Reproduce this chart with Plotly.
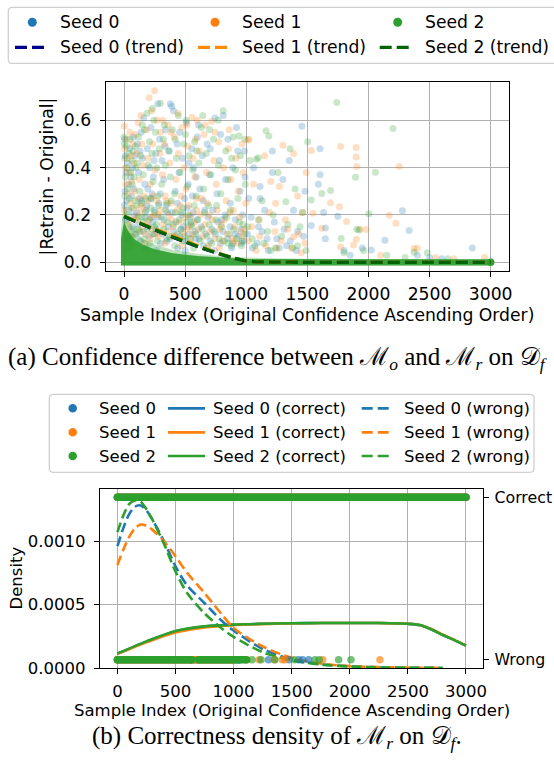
import plotly.graph_objects as go

W, H = 554, 770
BLUE, ORANGE, GREEN = '#1f77b4', '#ff7f0e', '#2ca02c'
TREND_COLORS = ['#00008b', '#ff8c00', '#006400']
SEED_COLORS = [BLUE, ORANGE, GREEN]
SANS = 'DejaVu Sans'
SERIF = 'Liberation Serif'

# ---------------- Panel (a): |Retrain - Original| per sample ----------------
seed0_pts = [
    (5,0.52),(10,0.45),(15,0.38),(8,0.30),(20,0.26),(12,0.18),(30,0.42),(35,0.33),(40,0.22),(45,0.48),
    (55,0.36),(60,0.28),(65,0.15),(70,0.40),(75,0.53),(80,0.31),(85,0.20),(90,0.45),(95,0.12),(25,0.10),
    (50,0.08),(18,0.06),(3,0.24),
    (110,0.50),(120,0.38),(130,0.27),(140,0.55),(150,0.44),(160,0.61),(170,0.33),(180,0.22),(190,0.48),
    (200,0.15),(210,0.40),(220,0.57),(230,0.29),(240,0.36),(250,0.12),(260,0.46),(276,0.67),(285,0.25),
    (290,0.52),(300,0.08),(135,0.09),(175,0.06),(225,0.19),(265,0.05),(195,0.31),
    (310,0.43),(325,0.35),(340,0.56),(355,0.21),(370,0.47),(379,0.67),(390,0.66),(405,0.64),(420,0.30),
    (435,0.50),(450,0.38),(465,0.14),(480,0.44),(495,0.27),(510,0.59),(525,0.33),(540,0.19),(555,0.48),
    (570,0.40),(585,0.10),(600,0.53),(350,0.09),(440,0.06),(500,0.05),(560,0.28),(590,0.36),
    (620,0.31),(640,0.45),(660,0.22),(680,0.50),(700,0.37),(720,0.14),(744,0.61),(760,0.29),(780,0.43),
    (800,0.18),(812,0.62),(830,0.35),(850,0.52),(870,0.25),(890,0.40),(910,0.12),(930,0.47),(950,0.30),
    (970,0.20),(990,0.36),(650,0.07),(740,0.05),(880,0.06),(960,0.08),
    (105,0.21),(118,0.16),(142,0.26),(158,0.13),(172,0.19),(186,0.24),(204,0.11),(218,0.27),(236,0.17),
    (248,0.22),(262,0.14),(278,0.19),(296,0.29),(312,0.12),(328,0.18),(344,0.24),(362,0.15),(376,0.10),
    (392,0.21),(408,0.13),(424,0.17),(438,0.25),(456,0.11),(472,0.20),(488,0.15),(504,0.09),(518,0.23),
    (532,0.12),(548,0.16),(566,0.21),(582,0.13),(598,0.18),(614,0.10),(632,0.15),(648,0.26),(668,0.12),
    (686,0.19),(706,0.09),(726,0.22),(748,0.12),(768,0.17),(788,0.08),(808,0.13),(828,0.20),(848,0.10),
    (868,0.15),(890,0.08),(912,0.18),(936,0.11),(958,0.14),(982,0.09),
    (130,0.47),(245,0.43),(335,0.49),(455,0.55),(530,0.42),(610,0.58),(705,0.48),(790,0.54),(920,0.57),
    (985,0.47),
    (1020,0.27),(1060,0.40),(1100,0.15),(1113,0.27),(1113,0.32),(1150,0.22),(1214,0.47),(1214,0.38),
    (1250,0.10),(1300,0.35),(1352,0.43),(1387,0.22),(1420,0.13),(1455,0.575),(1480,0.30),(1050,0.06),
    (1180,0.05),(1330,0.07),(1010,0.12),(1040,0.19),(1090,0.08),(1130,0.13),(1170,0.10),(1230,0.17),
    (1270,0.06),(1310,0.14),(1360,0.09),(1410,0.05),(1470,0.11),
    (1532,0.155),(1590,0.33),(1604,0.48),(1604,0.37),(1633,0.21),(1647,0.145),(1647,0.10),(1749,0.195),
    (1800,0.05),(1850,0.03),(1950,0.06),
    (2023,0.052),(2135,0.093),(2278,0.218),(2333,0.134),(2400,0.03),(2500,0.02),(2600,0.015),(2850,0.06),
]
seed1_pts = [
    (2,0.575),(6,0.48),(10,0.40),(14,0.33),(4,0.22),(22,0.52),(28,0.44),(32,0.29),(38,0.16),(42,0.38),
    (48,0.55),(52,0.25),(58,0.45),(62,0.34),(68,0.11),(72,0.50),(78,0.23),(82,0.42),(86,0.30),(92,0.54),
    (96,0.19),(16,0.09),(44,0.06),(76,0.07),(26,0.13),
    (105,0.46),(115,0.59),(125,0.35),(135,0.24),(145,0.50),(155,0.41),(165,0.28),(185,0.56),(195,0.44),
    (205,0.695),(215,0.33),(235,0.50),(250,0.725),(255,0.39),(270,0.60),(280,0.20),(295,0.46),(125,0.13),
    (170,0.08),(215,0.10),(260,0.12),(240,0.28),(190,0.17),(300,0.55),
    (315,0.37),(330,0.50),(345,0.26),(360,0.58),(375,0.42),(390,0.18),(410,0.53),(425,0.35),(445,0.46),
    (460,0.24),(475,0.57),(490,0.40),(505,0.31),(520,0.49),(535,0.15),(555,0.612),(565,0.44),(580,0.36),
    (595,0.22),(600,0.60),(335,0.08),(400,0.11),(470,0.07),(545,0.10),(515,0.58),
    (615,0.47),(635,0.27),(655,0.54),(675,0.38),(695,0.20),(717,0.596),(735,0.43),(755,0.33),(775,0.51),
    (795,0.16),(815,0.40),(835,0.26),(855,0.48),(875,0.35),(895,0.22),(915,0.44),(935,0.30),(955,0.13),
    (975,0.38),(995,0.25),(1015,0.517),(690,0.07),(780,0.06),(900,0.09),
    (102,0.18),(112,0.27),(128,0.21),(148,0.15),(162,0.23),(178,0.12),(198,0.26),(212,0.19),(228,0.14),
    (246,0.20),(266,0.26),(284,0.11),(302,0.22),(318,0.16),(336,0.28),(352,0.13),(368,0.20),(384,0.25),
    (402,0.15),(418,0.11),(434,0.22),(452,0.17),(468,0.28),(484,0.12),(498,0.19),(512,0.14),(528,0.24),
    (544,0.20),(562,0.12),(578,0.17),(592,0.27),(608,0.14),(626,0.20),(644,0.11),(662,0.16),(682,0.25),
    (702,0.13),(722,0.18),(742,0.10),(762,0.22),(784,0.14),(804,0.09),(824,0.18),(844,0.12),(864,0.21),
    (884,0.10),(906,0.15),(926,0.08),(946,0.19),(968,0.11),(988,0.14),
    (138,0.62),(225,0.64),(318,0.60),(385,0.55),(440,0.63),(585,0.52),(665,0.58),(745,0.55),(860,0.56),
    (965,0.50),
    (1020,0.52),(1060,0.33),(1100,0.18),(1150,0.45),(1200,0.341),(1240,0.25),(1272,0.32),(1300,0.495),
    (1340,0.14),(1387,0.46),(1387,0.108),(1420,0.28),(1460,0.21),(1490,0.38),(1080,0.05),(1250,0.06),
    (1450,0.04),(1015,0.09),(1045,0.15),(1110,0.11),(1160,0.07),(1190,0.21),(1235,0.13),(1285,0.09),
    (1320,0.18),(1370,0.06),(1430,0.12),(1480,0.08),
    (1532,0.472),(1546,0.207),(1618,0.144),(1690,0.252),(1763,0.235),(1772,0.489),(1772,0.066),
    (1821,0.172),(1878,0.073),(1900,0.485),(1900,0.445),(1905,0.405),(1902,0.097),(1930,0.14),(1980,0.139),
    (2170,0.199),(2224,0.165),(2252,0.405),(2373,0.058),(2399,0.059),(2550,0.02),(2700,0.015),(2950,0.02),
    (2100,0.03),
]
seed2_pts = [
    (0,0.53),(3,0.50),(7,0.44),(11,0.36),(6,0.28),(19,0.49),(24,0.40),(29,0.31),(33,0.20),(39,0.46),
    (43,0.27),(49,0.52),(54,0.38),(59,0.23),(63,0.43),(67,0.33),(73,0.47),(79,0.14),(83,0.36),(89,0.26),
    (93,0.49),(98,0.40),(13,0.12),(36,0.09),(57,0.11),
    (108,0.42),(118,0.53),(128,0.30),(138,0.45),(148,0.19),(158,0.37),(168,0.56),(178,0.27),(188,0.63),
    (198,0.41),(208,0.51),(218,0.23),(228,0.46),(238,0.34),(248,0.15),(258,0.55),(268,0.40),(278,0.28),
    (288,0.48),(298,0.672),(113,0.14),(163,0.10),(213,0.08),(273,0.09),(243,0.60),
    (308,0.33),(322,0.52),(338,0.41),(352,0.25),(366,0.47),(380,0.36),(395,0.56),(412,0.29),(428,0.44),
    (444,0.62),(458,0.38),(472,0.21),(488,0.50),(503,0.54),(518,0.32),(532,0.45),(548,0.17),(562,0.39),
    (578,0.51),(592,0.28),(345,0.10),(415,0.07),(480,0.09),(570,0.06),
    (612,0.42),(632,0.57),(652,0.31),(644,0.62),(672,0.46),(692,0.24),(712,0.37),(732,0.52),(752,0.18),
    (772,0.41),(792,0.29),(812,0.64),(832,0.47),(852,0.35),(872,0.22),(892,0.53),(912,0.39),(932,0.27),
    (942,0.534),(952,0.45),(972,0.16),(992,0.33),(680,0.06),(850,0.08),(960,0.07),
    (104,0.24),(116,0.19),(132,0.13),(146,0.25),(156,0.17),(174,0.21),(192,0.14),(206,0.18),(222,0.27),
    (234,0.12),(252,0.21),(266,0.16),(282,0.24),(294,0.13),(306,0.19),(324,0.14),(340,0.22),(356,0.17),
    (372,0.11),(386,0.26),(404,0.16),(420,0.21),(436,0.12),(450,0.18),(466,0.14),(482,0.23),(496,0.11),
    (510,0.17),(526,0.20),(540,0.10),(556,0.15),(574,0.24),(588,0.12),(604,0.18),(622,0.09),(640,0.14),
    (658,0.21),(678,0.11),(698,0.16),(718,0.08),(738,0.13),(758,0.24),(778,0.10),(798,0.15),(818,0.09),
    (838,0.19),(858,0.12),(878,0.07),(898,0.14),(922,0.10),(944,0.17),(966,0.09),(990,0.12),
    (150,0.58),(232,0.65),(330,0.58),(418,0.52),(508,0.60),(596,0.47),(700,0.56),(770,0.60),(880,0.44),
    (990,0.52),
    (1030,0.43),(1082,0.436),(1098,0.442),(1130,0.26),(1162,0.556),(1185,0.534),(1220,0.20),(1260,0.38),
    (1324,0.256),(1358,0.48),(1400,0.31),(1440,0.15),(1503,0.51),(1070,0.07),(1200,0.05),(1380,0.06),
    (1012,0.15),(1050,0.10),(1105,0.18),(1145,0.08),(1175,0.13),(1240,0.06),(1290,0.11),(1340,0.16),
    (1420,0.07),(1460,0.21),(1490,0.05),
    (1532,0.263),(1618,0.291),(1690,0.303),(1740,0.675),(1777,0.101),(1800,0.04),(1894,0.359),
    (1904,0.14),(1922,0.137),(1960,0.05),
    (2003,0.205),(2057,0.381),(2201,0.565),(2373,0.043),(2481,0.040),(2300,0.02),(2650,0.015),(2150,0.03),
]
# dense low-value band of overlapping samples (upper envelope of the saturated region)
band_light_x = [-25, 0, 30, 80, 150, 250, 400, 600, 800, 1000, 1300, 1700, 3000]
band_light_top = [0.14, 0.26, 0.19, 0.14, 0.10, 0.075, 0.052, 0.036, 0.026, 0.02, 0.016, 0.014, 0.013]
band_solid_x = [-25, 0, 30, 80, 150, 250, 400, 600, 800, 1000, 3000]
band_solid_top = [0.10, 0.17, 0.135, 0.10, 0.075, 0.055, 0.038, 0.027, 0.02, 0.014, 0.013]
band_floor = -0.0135

trend_x = [0, 100, 200, 300, 400, 500, 600, 700, 800, 900, 1000, 1100, 1200, 1500, 2000, 2500, 3000]
trend_seed0 = [0.194, 0.171, 0.149, 0.127, 0.106, 0.086, 0.067, 0.049, 0.032, 0.017, 0.006, 0.002, 0.001, 0, 0, 0, 0]
trend_seed1 = [0.196, 0.173, 0.152, 0.131, 0.111, 0.091, 0.071, 0.052, 0.034, 0.018, 0.006, 0.002, 0.001, 0, 0, 0, 0]
trend_seed2 = [0.195, 0.172, 0.150, 0.128, 0.107, 0.087, 0.068, 0.050, 0.033, 0.018, 0.006, 0.002, 0.001, 0, 0, 0, 0]

# ---------------- Panel (b): correctness density ----------------
DENSITY_UNIT = 1e-4
kde_correct_x = [0, 250, 500, 750, 1000, 1250, 1500, 1750, 2000, 2250, 2500, 2600, 2700, 2800, 2900, 3000]
kde_correct_seed0 = [1.13, 2.08, 2.90, 3.27, 3.41, 3.48, 3.52, 3.54, 3.55, 3.54, 3.48, 3.38, 3.05, 2.60, 2.20, 1.76]
kde_correct_seed1 = [1.10, 2.02, 2.80, 3.20, 3.38, 3.46, 3.51, 3.54, 3.55, 3.54, 3.49, 3.39, 3.07, 2.62, 2.21, 1.77]
kde_correct_seed2 = [1.15, 2.10, 2.92, 3.28, 3.42, 3.48, 3.52, 3.54, 3.55, 3.54, 3.48, 3.38, 3.05, 2.60, 2.20, 1.76]
kde_wrong_x = [0, 50, 100, 150, 200, 250, 300, 400, 500, 600, 750, 900, 1000, 1250, 1500, 1750, 2000, 2250, 2500, 2800]
kde_wrong_seed0 = [9.6, 11.0, 12.1, 12.7, 12.8, 12.4, 11.7, 10.0, 8.0, 6.5, 5.1, 3.7, 2.95, 1.5, 0.68, 0.30, 0.13, 0.06, 0.02, 0.005]
kde_wrong_seed1 = [8.1, 9.3, 10.3, 11.0, 11.3, 11.2, 10.9, 10.0, 8.8, 7.5, 5.9, 4.2, 3.15, 1.7, 0.80, 0.35, 0.15, 0.07, 0.03, 0.01]
kde_wrong_seed2 = [10.7, 12.0, 12.9, 13.2, 13.1, 12.5, 11.7, 9.8, 7.6, 5.9, 4.3, 3.1, 2.45, 1.25, 0.60, 0.28, 0.12, 0.05, 0.02, 0.005]

correct_spans = [[(0, 3000)], [(0, 3000)], [(0, 3000)]]
wrong_spans = [[(0, 1050)], [(0, 1000)], [(0, 640), (700, 1110)]]
wrong_points = [
    [1300, 1478, 1560, 1594, 1646],
    [1115, 1220, 1350, 1418, 1442, 1767, 2259],
    [1160, 1236, 1355, 1524, 1700, 1737, 1904, 2010],
]

seed_names = ['Seed 0', 'Seed 1', 'Seed 2']


def rgba(hex_color, a):
    h = hex_color.lstrip('#')
    return 'rgba(%d,%d,%d,%g)' % (int(h[0:2], 16), int(h[2:4], 16), int(h[4:6], 16), a)


def px(x):
    return x / W


def py(y):
    return 1 - y / H


fig = go.Figure()

# ---- panel (a) traces ----
for pts, col, name in zip([seed0_pts, seed1_pts, seed2_pts], SEED_COLORS, seed_names):
    fig.add_trace(go.Scatter(
        x=[p[0] for p in pts], y=[p[1] for p in pts], mode='markers', name=name,
        marker=dict(size=7, color=rgba(col, 0.25), line=dict(width=0)),
        xaxis='x', yaxis='y', showlegend=False, hoverinfo='skip'))

for bx, btop, alpha in [(band_light_x, band_light_top, 0.3), (band_solid_x, band_solid_top, 0.9)]:
    fig.add_trace(go.Scatter(
        x=bx + [bx[-1], bx[0]], y=btop + [band_floor, band_floor], mode='lines',
        fill='toself', fillcolor=rgba(GREEN, alpha), line=dict(width=0),
        xaxis='x', yaxis='y', showlegend=False, hoverinfo='skip'))
fig.add_trace(go.Scatter(x=[band_solid_x[-1]], y=[0], mode='markers',
                         marker=dict(size=7.5, color=GREEN, line=dict(width=0)),
                         xaxis='x', yaxis='y', showlegend=False, hoverinfo='skip'))

for ty, col, name in zip([trend_seed0, trend_seed1, trend_seed2], TREND_COLORS, seed_names):
    fig.add_trace(go.Scatter(
        x=trend_x, y=ty, mode='lines', name=name + ' (trend)',
        line=dict(color=col, width=3.3, dash='12px,5px', shape='spline', smoothing=0.6),
        xaxis='x', yaxis='y', showlegend=False, hoverinfo='skip'))

# ---- panel (b) traces ----
for ky, col, name in zip([kde_correct_seed0, kde_correct_seed1, kde_correct_seed2], SEED_COLORS, seed_names):
    fig.add_trace(go.Scatter(
        x=kde_correct_x, y=[v * DENSITY_UNIT for v in ky], mode='lines', name=name + ' (correct)',
        line=dict(color=col, width=2.6, shape='spline', smoothing=0.8),
        xaxis='x2', yaxis='y2', showlegend=False, hoverinfo='skip'))
for ky, col, name in zip([kde_wrong_seed0, kde_wrong_seed1, kde_wrong_seed2], SEED_COLORS, seed_names):
    fig.add_trace(go.Scatter(
        x=kde_wrong_x, y=[v * DENSITY_UNIT for v in ky], mode='lines', name=name + ' (wrong)',
        line=dict(color=col, width=2.6, dash='10px,4.5px', shape='spline', smoothing=0.8),
        xaxis='x2', yaxis='y2', showlegend=False, hoverinfo='skip'))


def span_xy(spans, level):
    xs, ys = [], []
    for a, b in spans:
        xs += [a, b, None]
        ys += [level, level, None]
    return xs, ys


for i, col in enumerate(SEED_COLORS):
    for spans, level in [(correct_spans[i], 1), (wrong_spans[i], 0)]:
        xs, ys = span_xy(spans, level)
        fig.add_trace(go.Scatter(
            x=xs, y=ys, mode='lines+markers', line=dict(color=col, width=7.5),
            marker=dict(size=7.5, color=col, line=dict(width=0)),
            xaxis='x2', yaxis='y3', showlegend=False, hoverinfo='skip'))
    fig.add_trace(go.Scatter(
        x=wrong_points[i], y=[0] * len(wrong_points[i]), mode='markers', name=seed_names[i],
        marker=dict(size=7.5, color=rgba(col, 0.65), line=dict(width=0)),
        xaxis='x2', yaxis='y3', showlegend=False, hoverinfo='skip'))

# ---- axes ----
common = dict(showgrid=True, gridcolor='#b0b0b0', gridwidth=1.1, showline=True, linecolor='black',
              linewidth=1.3, mirror=True, ticks='outside', ticklen=5, tickwidth=1.2, tickcolor='black',
              zeroline=False, color='black', automargin=False)
xt = [0, 500, 1000, 1500, 2000, 2500, 3000]
fig.update_layout(
    width=W, height=H, margin=dict(l=0, r=0, t=0, b=0, autoexpand=False),
    paper_bgcolor='white', plot_bgcolor='white', showlegend=False,
    font=dict(family=SANS, color='black'),
    xaxis=dict(domain=[px(105.7), px(509)], range=[-150, 3150], tickvals=xt, tickformat='d',
               anchor='y', tickfont=dict(size=17.2), ticklabelstandoff=3, **common),
    yaxis=dict(domain=[py(270.7), py(82)], range=[-0.0355, 0.762], tickvals=[0, 0.2, 0.4, 0.6],
               tickformat='.1f', anchor='x', tickfont=dict(size=17.2), ticklabelstandoff=5, **common),
    xaxis2=dict(domain=[px(100), px(483.3)], range=[-150, 3149], tickvals=xt, tickformat='d',
                anchor='y2', tickfont=dict(size=16.5), ticklabelstandoff=3, **common),
    yaxis2=dict(domain=[py(668), py(489)], range=[0, 0.00141], tickvals=[0, 0.0005, 0.001],
                tickformat='.4f', anchor='x2', tickfont=dict(size=16.5), ticklabelstandoff=5, **common),
    yaxis3=dict(overlaying='y2', side='right', anchor='x2', range=[-0.05, 1.05], tickvals=[0, 1],
                ticktext=['Wrong', 'Correct'], showgrid=False, zeroline=False, showline=False,
                ticks='outside', ticklen=5, tickwidth=1.2, tickcolor='black', automargin=False,
                tickfont=dict(size=15.8, color='black'), ticklabelstandoff=2),
)

# ---- legends, titles, captions ----
shapes, annos = [], []


def rounded_rect(x0, y0, x1, y1, r):
    def P(x, y):
        return '%.5f,%.5f' % (px(x), py(y))
    return ('M %s L %s Q %s %s L %s Q %s %s L %s Q %s %s L %s Q %s %s Z' % (
        P(x0 + r, y0), P(x1 - r, y0), P(x1, y0), P(x1, y0 + r), P(x1, y1 - r), P(x1, y1), P(x1 - r, y1),
        P(x0 + r, y1), P(x0, y1), P(x0, y1 - r), P(x0, y0 + r), P(x0, y0), P(x0 + r, y0)))


def legend_box(x0, y0, x1, y1):
    shapes.append(dict(type='path', xref='paper', yref='paper', path=rounded_rect(x0, y0, x1, y1, 4),
                       line=dict(color='#d0d0d0', width=1.3), fillcolor='rgba(255,255,255,0.8)'))


def legend_dot(x, y, col, d):
    shapes.append(dict(type='circle', xref='paper', yref='paper', xsizemode='pixel', ysizemode='pixel',
                       xanchor=px(x), yanchor=py(y), x0=-d / 2, x1=d / 2, y0=-d / 2, y1=d / 2,
                       fillcolor=col, line=dict(width=0)))


def legend_line(xa, xb, y, col, width, dash):
    shapes.append(dict(type='line', xref='paper', yref='paper', x0=px(xa), x1=px(xb), y0=py(y), y1=py(y),
                       line=dict(color=col, width=width, dash=dash)))


def text(x, y, s, size, xanchor='left', family=SANS, angle=0):
    annos.append(dict(x=px(x), y=py(y), xref='paper', yref='paper', text=s, showarrow=False,
                      xanchor=xanchor, yanchor='middle', textangle=angle,
                      font=dict(family=family, size=size, color='black')))


# legend (a)
legend_box(8.3, 7.3, 580, 63.3)
for i, (mx, lx0, lx1, tx) in enumerate([(32.3, 15, 46.7, 58.3), (215, 198, 230, 240), (397.7, 379.7, 412, 422.7)]):
    legend_dot(mx, 22.3, SEED_COLORS[i], 9)
    text(tx, 22.3, seed_names[i], 17.2)
    legend_line(lx0, lx1, 47.3, TREND_COLORS[i], 3.3, '12px,5px')
    text(tx, 47.3, seed_names[i] + ' (trend)', 17.2)

# legend (b)
legend_box(49.3, 394.3, 534, 472.3)
for i, ry in enumerate([408.3, 432.3, 456]):
    legend_dot(72.7, ry, SEED_COLORS[i], 8.5)
    text(96.7, ry, seed_names[i], 16.5)
    legend_line(168, 205, ry, SEED_COLORS[i], 2.7, 'solid')
    text(210.7, ry, seed_names[i] + ' (correct)', 16.5)
    legend_line(361.7, 390.7, ry, SEED_COLORS[i], 2.7, '11px,5px')
    text(401.7, ry, seed_names[i] + ' (wrong)', 16.5)

# axis titles
text(47, 176.4, '|Retrain - Original|', 17.2, xanchor='center', angle=-90)
text(307.3, 315, 'Sample Index (Original Confidence Ascending Order)', 17.2, xanchor='center')
text(16, 578.5, 'Density', 16.5, xanchor='center', angle=-90)
text(291.7, 710, 'Sample Index (Original Confidence Ascending Order)', 16.5, xanchor='center')

# captions
text(277, 358, '(a) Confidence difference between ℳ<sub><i>o</i></sub> and ℳ<sub><i>r</i></sub> on 𝒟<sub><i>f</i></sub>',
     25, xanchor='center', family=SERIF)
text(277, 737, '(b) Correctness density of ℳ<sub><i>r</i></sub> on 𝒟<sub><i>f</i></sub>.',
     25, xanchor='center', family=SERIF)

fig.update_layout(shapes=shapes, annotations=annos)
fig.write_html('out.html')
